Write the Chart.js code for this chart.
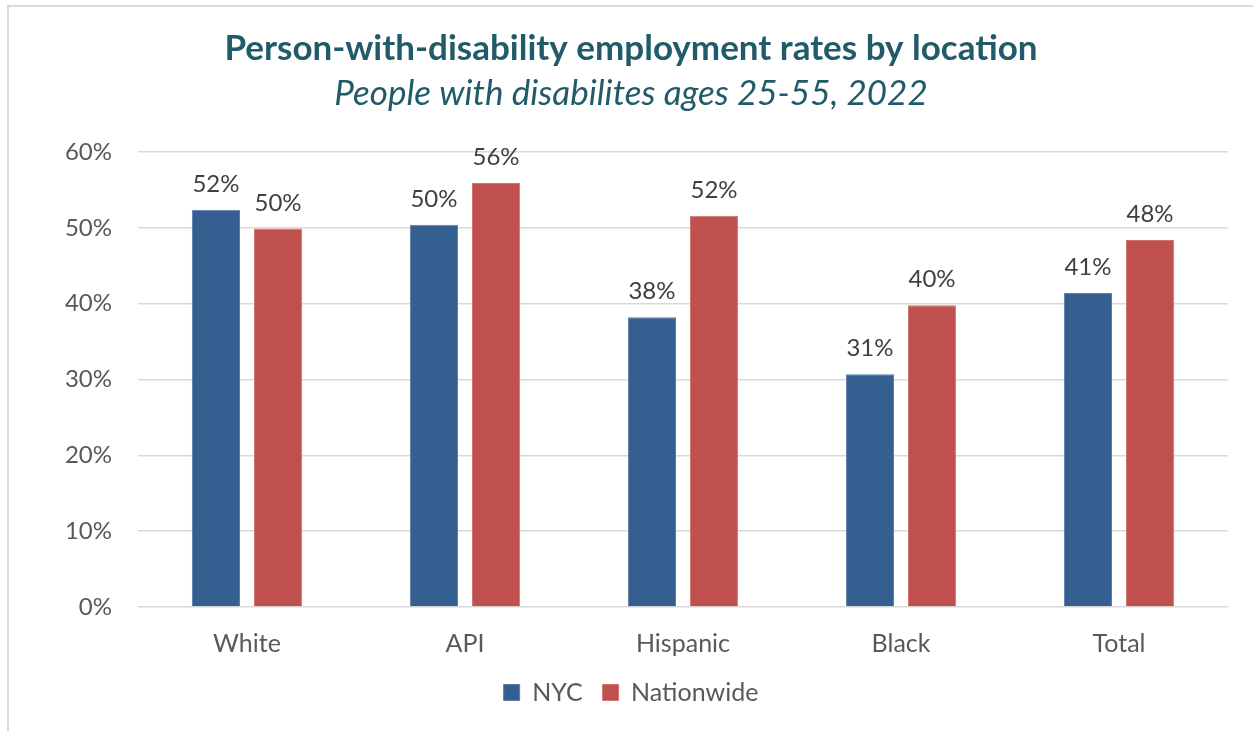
<!DOCTYPE html>
<html>
<head>
<meta charset="utf-8">
<title>Person-with-disability employment rates by location</title>
<script src="https://cdn.jsdelivr.net/npm/chart.js@4/dist/chart.umd.min.js"></script>
<style>
  html, body { margin: 0; padding: 0; background: #ffffff; }
  #wrap { position: absolute; left: 0; top: 0; width: 1253px; height: 731px; }
</style>
</head>
<body>
<div id="wrap"><canvas id="chart"></canvas></div>
<script>
// Employment rates (%) of people with disabilities, ages 25-55, 2022
const categories = ['White', 'API', 'Hispanic', 'Black', 'Total'];
const nycRates = [52.4, 50.4, 38.2, 30.7, 41.4];
const nationwideRates = [49.9, 55.9, 51.6, 39.8, 48.4];
const seriesNames = ['NYC', 'Nationwide'];
const yTickValues = [0, 10, 20, 30, 40, 50, 60];

const FONT = 'Lato';
const TEAL = '#215B69';

// Thin frame along the left and top edges of the chart panel
const framePlugin = {
  id: 'frame',
  beforeDraw(chart) {
    const ctx = chart.ctx;
    ctx.save();
    ctx.strokeStyle = '#D9D9D9';
    ctx.lineWidth = 2;
    ctx.beginPath();
    ctx.moveTo(8, chart.height);
    ctx.lineTo(8, 6);
    ctx.lineTo(chart.width, 6);
    ctx.stroke();
    ctx.restore();
  }
};

// Rounded percentage printed above every bar
const valueLabelPlugin = {
  id: 'valueLabels',
  afterDatasetsDraw(chart) {
    const ctx = chart.ctx;
    ctx.save();
    ctx.font = '24px ' + FONT;
    ctx.fillStyle = '#404040';
    ctx.textAlign = 'center';
    ctx.textBaseline = 'alphabetic';
    chart.data.datasets.forEach((ds, i) => {
      chart.getDatasetMeta(i).data.forEach((bar, j) => {
        ctx.fillText(Math.round(ds.data[j]) + '%', bar.x, bar.y - 18);
      });
    });
    ctx.restore();
  }
};

new Chart(document.getElementById('chart'), {
  type: 'bar',
  data: {
    labels: categories,
    datasets: [
      {
        label: seriesNames[0],
        data: nycRates,
        backgroundColor: '#365F91',
        borderColor: '#5B7DA8',
        borderWidth: 1
      },
      {
        label: seriesNames[1],
        data: nationwideRates,
        backgroundColor: '#C0504D',
        borderColor: '#D27572',
        borderWidth: 1
      }
    ]
  },
  options: {
    responsive: true,
    maintainAspectRatio: false,
    animation: false,
    layout: { padding: { left: 34, right: 25, top: 0, bottom: 16 } },
    datasets: {
      bar: { categoryPercentage: 0.57, barPercentage: 0.775 }
    },
    scales: {
      x: {
        grid: { display: false },
        border: { display: false },
        afterFit(scale) { scale.height -= 13; },
        ticks: { color: '#595959', font: { family: FONT, size: 25 }, padding: 14 }
      },
      y: {
        min: 0,
        max: 60,
        afterBuildTicks(scale) {
          scale.ticks = yTickValues.map(v => ({ value: v }));
        },
        afterFit(scale) { scale.width = 104; },
        grid: { color: '#D9D9D9', lineWidth: 1.5, drawTicks: false },
        border: { display: false },
        ticks: {
          color: '#595959',
          font: { family: FONT, size: 24 },
          padding: 26,
          callback: v => v + '%'
        }
      }
    },
    plugins: {
      title: {
        display: true,
        text: 'Person-with-disability employment rates by location',
        color: TEAL,
        font: { family: FONT, size: 35, weight: 'bold' },
        padding: { top: 28, bottom: 3 }
      },
      subtitle: {
        display: true,
        text: 'People with disabilites ages 25-55, 2022',
        color: TEAL,
        font: { family: FONT, size: 35, style: 'italic' },
        padding: { top: 0, bottom: 37 }
      },
      legend: {
        position: 'bottom',
        labels: {
          color: '#595959',
          font: { family: FONT, size: 25 },
          boxWidth: 16,
          boxHeight: 16,
          padding: 20
        }
      },
      tooltip: { enabled: false }
    }
  },
  plugins: [framePlugin, valueLabelPlugin]
});
</script>
</body>
</html>
